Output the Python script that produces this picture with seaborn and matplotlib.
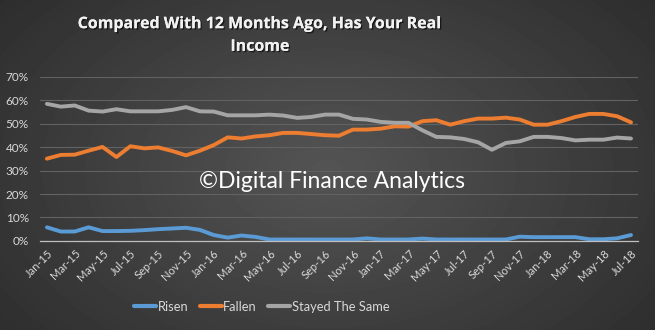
import numpy as np
import pandas as pd
import matplotlib
matplotlib.use("Agg")
import matplotlib.pyplot as plt
import seaborn as sns
from matplotlib import patheffects as pe

months = [d.strftime('%b-%y') for d in pd.date_range('2015-01-01', '2018-07-01', freq='MS')]

risen = [5.8, 4.0, 4.0, 5.8, 4.2, 4.2, 4.3, 4.6, 5.0, 5.3, 5.6, 4.7, 2.5, 1.4, 2.3, 1.7,
         0.6, 0.6, 0.6, 0.6, 0.6, 0.6, 0.6, 1.1, 0.6, 0.6, 0.6, 1.0, 0.6, 0.6, 0.6, 0.6,
         0.6, 0.6, 1.8, 1.6, 1.6, 1.6, 1.6, 0.7, 0.7, 1.1, 2.5]
fallen = [35.1, 36.7, 36.8, 38.5, 40.1, 35.8, 40.4, 39.5, 39.9, 38.4, 36.5, 38.5, 40.9,
          44.2, 43.7, 44.6, 45.1, 46.1, 46.1, 45.6, 45.1, 44.9, 47.5, 47.5, 47.9, 48.9,
          48.8, 51.1, 51.5, 49.6, 51.1, 52.2, 52.2, 52.6, 51.8, 49.6, 49.6, 51.1, 52.9,
          54.2, 54.2, 53.2, 50.6]
stayed = [58.5, 57.3, 57.8, 55.6, 55.2, 56.2, 55.3, 55.3, 55.3, 55.9, 57.1, 55.3, 55.2,
          53.6, 53.6, 53.6, 53.9, 53.5, 52.5, 52.9, 53.9, 53.9, 52.1, 51.8, 50.8, 50.4,
          50.4, 47.2, 44.4, 44.2, 43.5, 42.1, 38.9, 41.8, 42.5, 44.4, 44.4, 43.9, 42.9,
          43.2, 43.2, 44.1, 43.7]
series_names = ["Risen", "Fallen", "Stayed The Same"]
colors = ["#5B9BD5", "#ED7D31", "#A5A5A5"]
yticks = [0, 10, 20, 30, 40, 50, 60, 70]

n = len(months)
df = pd.DataFrame({
    "idx": list(range(n)) * 3,
    "value": risen + fallen + stayed,
    "series": np.repeat(series_names, n),
})

sns.set_style("white")
plt.rcParams['font.family'] = ['Lato', 'DejaVu Sans']

fig = plt.figure(figsize=(6.55, 3.3), dpi=100)

# background radial gradient
bg = fig.add_axes([0, 0, 1, 1], zorder=0)
bg.axis('off')
yy, xx = np.mgrid[0:330, 0:655]
r = np.sqrt(((xx - 327) / 400.0) ** 2 + ((yy - 170) / 260.0) ** 2)
val = np.clip(0.33 - 0.145 * r, 0, 1)
bg.imshow(val, cmap='gray', vmin=0, vmax=1, extent=[0, 1, 0, 1], aspect='auto')
bg.set_xlim(0, 1)
bg.set_ylim(0, 1)

ax = fig.add_axes([0.061, 0.27, 0.913, 0.497], zorder=1)
ax.patch.set_alpha(0)

sns.lineplot(data=df, x="idx", y="value", hue="series", palette=colors,
             hue_order=series_names, linewidth=2.8, ax=ax)

ax.set_xlim(-0.5, n - 0.5)
ax.set_ylim(0, 70)
ax.set_yticks(yticks)
ax.set_yticklabels([f"{v}%" for v in yticks])
ax.set_xticks(range(0, n, 2))
ax.set_xticklabels(months[::2], rotation=45, ha='right', rotation_mode='anchor')
ax.set_xlabel("")
ax.set_ylabel("")
ax.grid(axis='y', color='#626262', linewidth=0.8)
ax.set_axisbelow(True)
for s in ['top', 'right', 'left']:
    ax.spines[s].set_visible(False)
ax.spines['bottom'].set_color('#bfbfbf')
ax.spines['bottom'].set_linewidth(0.9)
ax.tick_params(axis='y', length=0, pad=8, labelsize=8.5, labelcolor='#d9d9d9')
ax.tick_params(axis='x', length=0, pad=5, labelsize=8, labelcolor='#d9d9d9')

sns.move_legend(ax, "center", bbox_to_anchor=(0.371, -0.40), ncol=3, frameon=False,
                title=None, handlelength=1.7, handletextpad=0.1, columnspacing=0.9,
                fontsize=9.3)
for t in ax.get_legend().get_texts():
    t.set_color('#d9d9d9')
for h in ax.get_legend().legend_handles:
    h.set_linewidth(3)

fig.text(0.397, 1 - 35.5 / 330, "Compared With 12 Months Ago, Has Your Real\nIncome",
         ha='center', va='center', fontsize=11.5, fontweight='bold', color='#f2f2f2',
         family=['Open Sans', 'DejaVu Sans'], linespacing=1.55,
         path_effects=[pe.withSimplePatchShadow(offset=(1, -1), shadow_rgbFace='black', alpha=0.6),
                       pe.Normal()])

fig.text(332 / 655, 1 - 181 / 330, "\u00a9Digital Finance Analytics", ha='center', va='center',
         fontsize=16.5, color='white', zorder=5)

fig.savefig("out.png", dpi=100)
